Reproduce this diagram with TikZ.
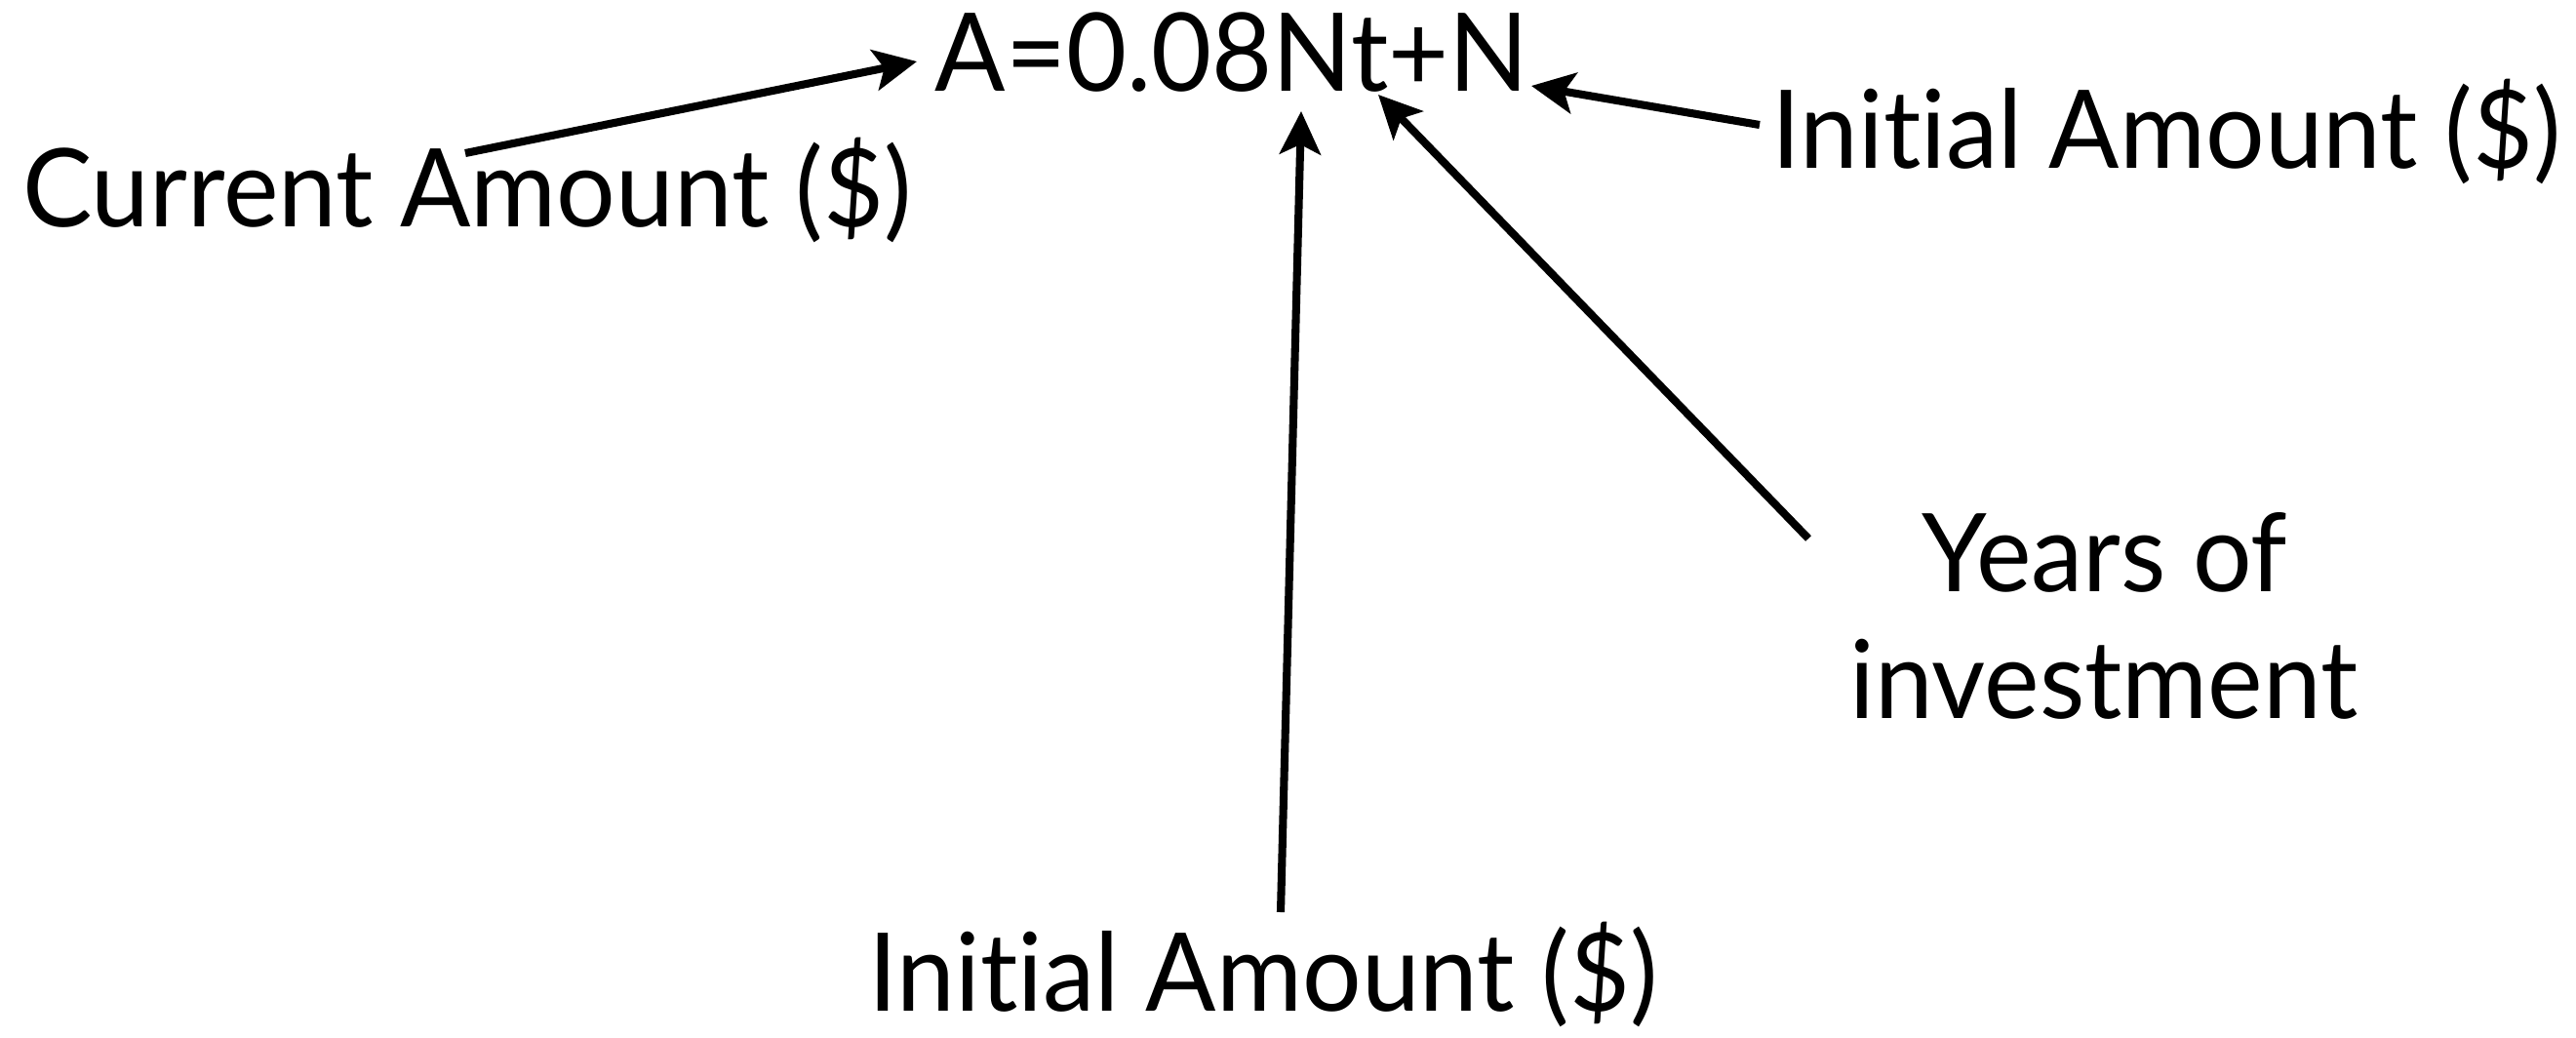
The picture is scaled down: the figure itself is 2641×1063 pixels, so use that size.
\documentclass[tikz,border=0pt]{standalone}
\usepackage{fontspec}
\setmainfont{Lato}[FakeStretch=0.96,Ligatures=NoCommon]
\usetikzlibrary{arrows.meta}
\begin{document}
\begin{tikzpicture}[x=0.01cm,y=-0.01cm,
  lbl/.style={inner sep=0pt,anchor=base,font=\fontsize{31.7}{38}\selectfont},
  arr/.style={line width=2.3pt,-{Stealth[length=0.44cm,width=0.42cm,inset=0.1cm]}}]
\useasboundingbox (0,0) rectangle (2641,1063);
\node[lbl] (eq) at (1263,93) {A=0.08Nt+N};
\node[lbl] (cur) at (479,232) {Current Amount (\$)};
\node[lbl] (initR) at (2221,172) {Initial Amount (\$)};
\node[lbl] (years) at (2158,606) {Years of};
\node[lbl] (invest) at (2157,736) {investment};
\node[lbl] (initB) at (1295,1036) {Initial Amount (\$)};
\coordinate (c1s) at (477,157); \coordinate (c1e) at (940,63);
\coordinate (c2s) at (1804,128); \coordinate (c2e) at (1570,88);
\coordinate (c3s) at (1313,935); \coordinate (c3e) at (1334,114);
\coordinate (c4s) at (1854,552); \coordinate (c4e) at (1413,97);
\draw[arr] (c1s) -- (c1e);
\draw[arr] (c2s) -- (c2e);
\draw[arr] (c3s) -- (c3e);
\draw[arr] (c4s) -- (c4e);
\end{tikzpicture}
\end{document}
